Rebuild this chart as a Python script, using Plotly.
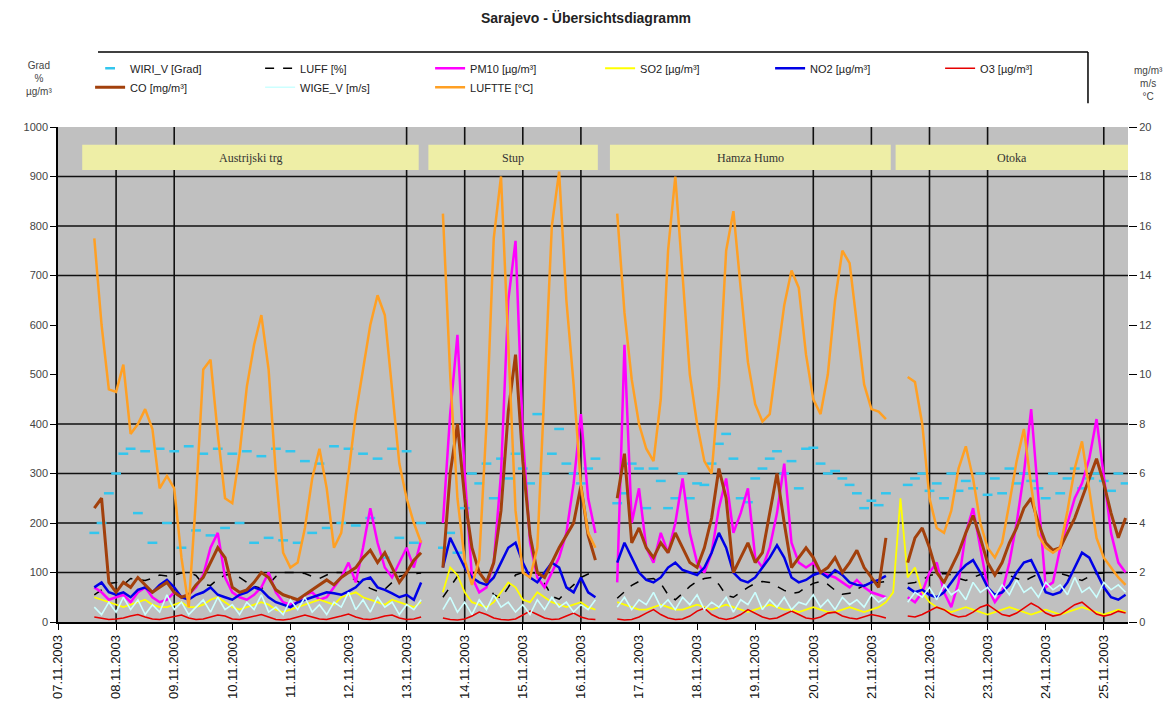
import pandas as pd
import plotly.graph_objects as go

# ---------------- time base (3-hourly samples) ----------------
START = pd.Timestamp("2003-11-07 00:00")
STEP_HOURS = 3
N_POINTS = 148
RANGE_END_HOURS = 442


def gap(n):
    return [None] * n


# ---------------- series ----------------
# LUFTTE [°C]  (right axis)
LUFTTE = gap(5) + [
    15.5, 12.0, 9.4, 9.3, 10.4, 7.6, 8.0, 8.6, 7.8, 5.4,
    5.9, 5.4, 2.6, 0.6, 5.0, 10.2, 10.6, 7.6, 5.0, 4.8,
    6.8, 9.5, 11.2, 12.4, 10.2, 6.0, 2.8, 2.2, 2.4, 3.8,
    5.8, 7.0, 5.4, 3.0, 3.6, 6.0, 8.4, 10.2, 12.0, 13.2,
    12.4, 9.4, 6.4, 5.0, 4.0, 3.2] + gap(2) + [
    16.5, 10.0, 5.0, 2.5, 1.5, 2.5, 8.0, 15.5, 18.0, 11.0,
    4.5, 2.0, 1.8, 3.0, 9.5, 16.0, 18.2, 13.0, 9.6, 5.5,
    3.6, 3.0] + gap(2) + [
    16.5, 12.5, 9.8, 8.0, 7.0, 6.5, 9.0, 15.0, 18.0, 14.0,
    10.0, 8.0, 6.5, 6.0, 9.5, 15.0, 16.6, 13.5, 10.5, 8.8,
    8.1, 8.4, 10.5, 12.8, 14.2, 13.5, 10.8, 9.0, 8.4, 10.0,
    13.0, 15.0, 14.5, 12.0, 9.6, 8.6, 8.5, 8.2] + gap(2) + [
    9.9, 9.7, 8.0, 5.0, 3.8, 3.6, 4.5, 6.2, 7.1, 5.8,
    4.0, 3.0, 2.6, 3.2, 4.8, 6.5, 7.8, 5.5, 3.5, 3.0,
    2.8, 3.0, 4.5, 6.2, 7.3, 5.4, 3.4, 2.6, 2.2, 1.8,
    1.5]

# PM10 [µg/m³]
PM10 = gap(5) + [
    70, 60, 45, 50, 55, 40, 60, 70, 50, 40,
    45, 60, 50, 55, 70, 95, 150, 180, 90, 60,
    50, 45, 55, 70, 100, 60, 40, 35, 40, 55,
    60, 45, 50, 70, 90, 120, 80, 150, 230, 160,
    110, 90, 120, 150, 110, 165] + gap(2) + [
    200, 420, 580, 300, 90, 60, 70, 120, 300, 650,
    770, 380, 160, 90, 70, 100, 130, 180, 280, 420,
    250, 180] + gap(2) + [
    80, 560, 200, 270, 150, 120, 180, 140, 200, 290,
    180, 120, 100, 140, 230, 290, 180, 220, 270, 130,
    110, 150, 220, 320, 160, 120, 110, 120, 100, 95,
    90, 80, 70, 85, 70, 60, 55, 50] + gap(2) + [
    50, 40, 60, 100, 120, 60, 30, 80, 180, 230,
    150, 70, 40, 60, 120, 200, 300, 430, 250, 70,
    80, 150, 200, 250, 280, 330, 410, 300, 180, 120,
    100]

# CO [mg/m³]  (right axis)
CO = gap(5) + [
    4.6, 5.0, 1.6, 1.2, 1.6, 1.4, 1.8, 1.5, 1.2, 1.4,
    1.6, 1.2, 1.0, 1.1, 1.5, 1.8, 2.4, 3.0, 2.6, 1.4,
    1.2, 1.3, 1.6, 2.0, 1.8, 1.3, 1.1, 1.0, 0.9, 1.1,
    1.3, 1.5, 1.7, 1.5, 1.8, 2.0, 2.2, 2.6, 2.9, 2.4,
    2.8, 2.2, 1.6, 2.0, 2.5, 2.8] + gap(2) + [
    2.2, 6.0, 8.0, 5.0, 3.0, 2.0, 1.6, 2.4, 4.5, 8.5,
    10.8, 6.5, 3.5, 2.0, 1.8, 2.4, 3.0, 3.5, 4.0, 5.5,
    3.5, 2.5] + gap(2) + [
    5.0, 6.8, 3.2, 3.8, 3.0, 2.6, 3.2, 2.8, 3.6, 3.0,
    2.4, 2.2, 3.0, 4.2, 6.2, 5.0, 2.0, 2.6, 3.2, 2.4,
    2.8, 4.4, 6.0, 4.0, 2.2, 2.6, 3.0, 2.6, 2.0, 2.2,
    2.6, 2.0, 2.4, 2.9, 2.2, 1.8, 1.4, 3.4] + gap(2) + [
    2.4, 3.4, 3.8, 3.0, 2.0, 1.6, 2.2, 2.8, 3.6, 4.3,
    3.4, 2.4, 1.9, 2.4, 3.2, 3.8, 4.6, 5.0, 4.0, 3.2,
    2.9, 3.0, 3.6, 4.2, 5.0, 5.8, 6.6, 5.6, 4.4, 3.4,
    4.2]

# NO2 [µg/m³]
NO2 = gap(5) + [
    70, 80, 60, 55, 60, 50, 65, 70, 60, 75,
    85, 70, 50, 45, 55, 60, 70, 55, 50, 45,
    55, 60, 70, 65, 50, 40, 35, 30, 40, 45,
    50, 55, 60, 58, 55, 62, 70, 85, 90, 70,
    65, 58, 50, 55, 45, 80] + gap(2) + [
    110, 170, 140, 110, 90, 80, 75, 90, 120, 150,
    160, 120, 90, 80, 100, 120, 110, 70, 60, 90,
    60, 50] + gap(2) + [
    120, 160, 130, 100, 85, 80, 90, 110, 120, 105,
    100, 95, 110, 140, 180, 150, 100, 85, 80, 90,
    110, 130, 155, 130, 90, 80, 85, 95, 100, 90,
    105, 95, 80, 75, 73, 80, 85, 93] + gap(2) + [
    70, 60, 65, 55, 50, 60, 80, 100, 115, 125,
    100, 70, 55, 60, 75, 100, 120, 125, 95, 60,
    55, 60, 80, 110, 140, 130, 100, 70, 50, 45,
    55]

# SO2 [µg/m³]
SO2 = gap(5) + [
    50, 45, 40, 35, 30, 35, 40, 45, 35, 30,
    30, 35, 40, 30, 30, 35, 45, 50, 40, 30,
    25, 30, 35, 40, 35, 25, 20, 25, 30, 35,
    40, 45, 40, 35, 50, 55, 60, 50, 45, 40,
    35, 45, 40, 35, 30, 40] + gap(2) + [
    60, 110, 95, 60, 40, 35, 30, 40, 60, 80,
    70, 45, 40, 60, 50, 40, 35, 30, 35, 40,
    30, 25] + gap(2) + [
    40, 35, 30, 25, 25, 30, 35, 30, 25, 25,
    30, 35, 30, 25, 30, 35, 30, 25, 20, 25,
    30, 35, 30, 25, 25, 20, 25, 30, 25, 20,
    20, 25, 30, 25, 20, 25, 30, 40] + [60, 250] + [
    90, 110, 60, 40, 30, 25, 20, 25, 30, 25,
    20, 15, 20, 25, 30, 25, 20, 15, 20, 25,
    20, 15, 20, 25, 30, 25, 20, 15, 20, 25,
    20]

# O3 [µg/m³]
O3 = gap(5) + [
    10, 8, 5, 6, 8, 12, 15, 10, 6, 5,
    8, 12, 14, 8, 5, 6, 10, 14, 12, 6,
    5, 8, 12, 15, 10, 5, 4, 6, 10, 14,
    10, 6, 5, 8, 12, 16, 10, 6, 5, 8,
    12, 14, 8, 5, 6, 10] + gap(2) + [
    8, 5, 4, 6, 12, 20, 15, 8, 5, 4,
    6, 14, 22, 15, 8, 5, 6, 12, 18, 10,
    6, 5] + gap(2) + [
    6, 4, 5, 10, 18, 25, 15, 8, 5, 6,
    12, 22, 28, 15, 8, 5, 8, 15, 25, 18,
    10, 6, 8, 15, 22, 15, 8, 6, 10, 18,
    20, 12, 8, 6, 10, 15, 12, 8] + gap(2) + [
    12, 10, 15, 22, 30, 25, 15, 10, 12, 20,
    30, 35, 25, 15, 12, 18, 28, 38, 30, 18,
    12, 15, 25, 35, 40, 28, 16, 12, 15, 22,
    18]

# LUFF [%]
LUFF = gap(5) + [
    55, 65, 78, 80, 75, 88, 86, 84, 88, 95,
    93, 95, 99, 100, 94, 76, 74, 86, 95, 96,
    90, 80, 72, 68, 76, 92, 100, 100, 100, 98,
    92, 88, 95, 100, 100, 94, 84, 76, 68, 62,
    66, 80, 92, 96, 98, 99] + gap(2) + [
    50, 72, 92, 99, 100, 99, 82, 55, 48, 70,
    95, 100, 100, 99, 78, 52, 46, 62, 75, 90,
    97, 98] + gap(2) + [
    48, 62, 74, 82, 86, 88, 78, 55, 45, 58,
    72, 82, 88, 90, 76, 54, 50, 60, 70, 78,
    82, 80, 72, 64, 58, 60, 70, 78, 82, 76,
    64, 56, 58, 66, 74, 80, 80, 82] + gap(2) + [
    78, 80, 85, 94, 97, 98, 95, 88, 84, 90,
    96, 98, 99, 98, 94, 88, 82, 90, 97, 98,
    99, 98, 94, 88, 84, 92, 98, 99, 100, 100,
    100]

# WIGE_V [m/s]  (right axis)
WIGE_V = gap(5) + [
    0.6, 0.3, 0.8, 0.4, 1.0, 0.5, 0.9, 0.3, 0.7, 0.4,
    1.1, 0.5, 0.8, 0.3, 0.6, 0.9, 0.4, 1.0, 0.5, 0.7,
    0.3, 0.8, 0.5, 1.1, 0.4, 0.6, 0.3, 0.9, 0.5, 1.0,
    0.4, 0.7, 0.3, 0.8, 0.6, 1.2, 0.5, 0.9, 0.4, 1.0,
    0.6, 0.8, 0.3, 0.7, 0.5, 0.9] + gap(2) + [
    0.5, 1.0, 0.4, 0.8, 0.3, 0.9, 0.5, 1.1, 0.6, 0.8,
    0.4, 0.7, 0.3, 0.9, 0.5, 1.0, 0.6, 0.8, 0.4, 0.7,
    0.5, 0.9] + gap(2) + [
    0.6, 1.0, 0.5, 0.9, 0.7, 1.2, 0.6, 0.9, 0.5, 1.0,
    0.7, 1.1, 0.5, 0.8, 0.6, 1.0, 0.4, 0.9, 0.7, 1.2,
    0.5, 0.9, 0.6, 1.0, 0.5, 0.8, 0.7, 1.1, 0.6, 0.9,
    0.5, 1.0, 0.7, 0.9, 0.6, 1.1, 0.8, 1.0] + gap(2) + [
    0.8, 1.2, 1.0, 1.4, 0.9, 1.5, 1.1, 1.3, 0.9, 1.6,
    1.2, 1.4, 1.0, 1.5, 1.1, 1.7, 1.2, 1.4, 1.0, 1.6,
    1.3, 1.5, 1.1, 1.8, 1.2, 1.4, 1.0, 1.6, 1.3, 1.5,
    1.2]

# WIRI_V [Grad]
WIRI_V = gap(5) + [
    180, 200, 260, 300, 340, 350, 220, 345, 160, 350,
    200, 345, 150, 355, 185, 340, 175, 350, 190, 340,
    200, 345, 160, 335, 170, 350, 165, 345, 160, 325,
    180, 320, 190, 355, 200, 350, 195, 340, 210, 330,
    130, 350, 170, 345, 160, 200] + gap(2) + [
    150, 180, 140, 230, 300, 280, 320, 250, 330, 290,
    340, 310, 280, 420, 300, 340, 390, 320, 300, 280,
    310, 330] + gap(2) + [
    240, 260, 320, 310, 230, 310, 285, 230, 250, 300,
    250, 280, 277, 320, 360, 380, 330, 250, 242, 290,
    310, 330, 345, 300, 325, 270, 350, 352, 320, 300,
    305, 290, 277, 260, 230, 245, 236, 260] + gap(2) + [
    277, 290, 300, 265, 280, 250, 300, 265, 285, 270,
    300, 257, 290, 260, 310, 280, 300, 285, 270, 250,
    300, 260, 290, 310, 270, 290, 300, 285, 265, 300,
    280]

for _s in (LUFTTE, PM10, CO, NO2, SO2, O3, LUFF, WIGE_V, WIRI_V):
    assert len(_s) == N_POINTS

# station periods (hours after START)
STATION_NAMES = ["Austrijski trg", "Stup", "Hamza Humo", "Otoka"]
STATION_START_H = [10, 153, 228, 346]
STATION_END_H = [149, 223, 344, 442]

# grid lines visible in the reference
VGRID_DAYS = [1, 2, 6, 7, 8, 9, 13, 14, 15, 16, 18]
HGRID_LEVELS = [100, 200, 300, 400, 700, 800, 900]

# ---------------- figure ----------------
times = [START + pd.Timedelta(hours=STEP_HOURS * i) for i in range(N_POINTS)]
FONT = "Liberation Sans, Arial, sans-serif"

fig = go.Figure()

fig.add_trace(go.Scatter(x=times, y=WIRI_V, name="WIRI_V [Grad]", mode="markers",
                         marker=dict(symbol="line-ew", size=7, color="#33c6ee",
                                     line=dict(color="#33c6ee", width=2.5))))
fig.add_trace(go.Scatter(x=times, y=LUFF, name="LUFF [%]", mode="lines",
                         line=dict(color="black", width=1.5, dash="dash")))
fig.add_trace(go.Scatter(x=times, y=PM10, name="PM10 [µg/m³]", mode="lines",
                         line=dict(color="#ff00ff", width=2.5)))
fig.add_trace(go.Scatter(x=times, y=SO2, name="SO2 [µg/m³]", mode="lines",
                         line=dict(color="#ffff00", width=1.8)))
fig.add_trace(go.Scatter(x=times, y=NO2, name="NO2 [µg/m³]", mode="lines",
                         line=dict(color="#0000e6", width=2.5)))
fig.add_trace(go.Scatter(x=times, y=O3, name="O3 [µg/m³]", mode="lines",
                         line=dict(color="#e60000", width=1.6)))
fig.add_trace(go.Scatter(x=times, y=CO, name="CO [mg/m³]", mode="lines", yaxis="y2",
                         line=dict(color="#a2400c", width=3)))
fig.add_trace(go.Scatter(x=times, y=WIGE_V, name="WIGE_V [m/s]", mode="lines", yaxis="y2",
                         line=dict(color="#ccffff", width=1.6)))
fig.add_trace(go.Scatter(x=times, y=LUFTTE, name="LUFTTE [°C]", mode="lines", yaxis="y2",
                         line=dict(color="#ffa024", width=2.5)))

shapes = []
annotations = []
for name, h0, h1 in zip(STATION_NAMES, STATION_START_H, STATION_END_H):
    t0 = START + pd.Timedelta(hours=h0)
    t1 = START + pd.Timedelta(hours=h1)
    shapes.append(dict(type="rect", xref="x", yref="y", x0=t0, x1=t1, y0=913, y1=964,
                       fillcolor="#eeeea6", line=dict(width=0), layer="below"))
    annotations.append(dict(x=t0 + (t1 - t0) / 2, y=938, xref="x", yref="y", text=name,
                            showarrow=False, font=dict(family="Liberation Serif, serif",
                                                       size=12, color="#333")))
for d in VGRID_DAYS:
    t = START + pd.Timedelta(days=d)
    shapes.append(dict(type="line", xref="x", yref="paper", x0=t, x1=t, y0=0, y1=1,
                       line=dict(color="#111", width=1.6), layer="below"))
for v in HGRID_LEVELS:
    shapes.append(dict(type="line", xref="paper", yref="y", x0=0, x1=1, y0=v, y1=v,
                       line=dict(color="#111", width=1.6), layer="below"))
# legend frame (top and right edges)
shapes.append(dict(type="line", xref="paper", yref="paper", x0=0.0374, x1=0.9626,
                   y0=1.1515, y1=1.1515, line=dict(color="black", width=1.5)))
shapes.append(dict(type="line", xref="paper", yref="paper", x0=0.9626, x1=0.9626,
                   y0=1.1515, y1=1.048, line=dict(color="black", width=1.5)))

annotations.append(dict(x=-0.032, y=1.14, xref="paper", yref="paper", yanchor="top",
                        text="Grad<br>%<br>µg/m³", showarrow=False, align="center",
                        font=dict(family=FONT, size=10, color="#444")))
annotations.append(dict(x=1.035, y=1.13, xref="paper", yref="paper", yanchor="top",
                        text="mg/m³<br>m/s<br>°C", showarrow=False, align="center",
                        font=dict(family=FONT, size=10, color="#444")))

fig.update_layout(
    width=1172, height=727, autosize=False,
    margin=dict(l=58, r=44, t=127, b=105),
    paper_bgcolor="white", plot_bgcolor="#c0c0c0",
    font=dict(family=FONT, size=11, color="#222"),
    title=dict(text="<b>Sarajevo - Übersichtsdiagramm</b>", x=0.5, xanchor="center",
               y=0.975, yanchor="middle", font=dict(family=FONT, size=14, color="#222")),
    showlegend=True,
    legend=dict(orientation="h", x=0.03, y=1.148, xanchor="left", yanchor="top",
                entrywidth=125, entrywidthmode="pixels", bgcolor="rgba(0,0,0,0)",
                font=dict(family=FONT, size=11, color="#222"), tracegroupgap=0),
    xaxis=dict(type="date", range=[START, START + pd.Timedelta(hours=RANGE_END_HOURS)],
               tickmode="linear", tick0=START, dtick=86400000,
               tickformat="%d.%m.%Y", tickangle=-90, showgrid=False,
               ticks="outside", ticklen=6, tickcolor="black", tickwidth=1.2,
               showline=True, linecolor="black", linewidth=1.5, automargin=False,
               tickfont=dict(family=FONT, size=13, color="#111"), zeroline=False),
    yaxis=dict(range=[0, 1000], dtick=100, showgrid=False, zeroline=False,
               ticks="outside", ticklen=6, tickcolor="black", showline=True,
               linecolor="black", linewidth=1.5, automargin=False,
               tickfont=dict(family=FONT, size=11, color="#444")),
    yaxis2=dict(range=[0, 20], dtick=2, overlaying="y", side="right", showgrid=False,
                zeroline=False, ticks="outside", ticklen=8, tickcolor="black",
                showline=False, automargin=False,
                tickfont=dict(family=FONT, size=11, color="#444")),
    shapes=shapes, annotations=annotations,
)

fig.write_html("out.html", config={"displayModeBar": False},
               post_script="document.body.style.margin='0px';document.body.style.overflow='hidden';")
